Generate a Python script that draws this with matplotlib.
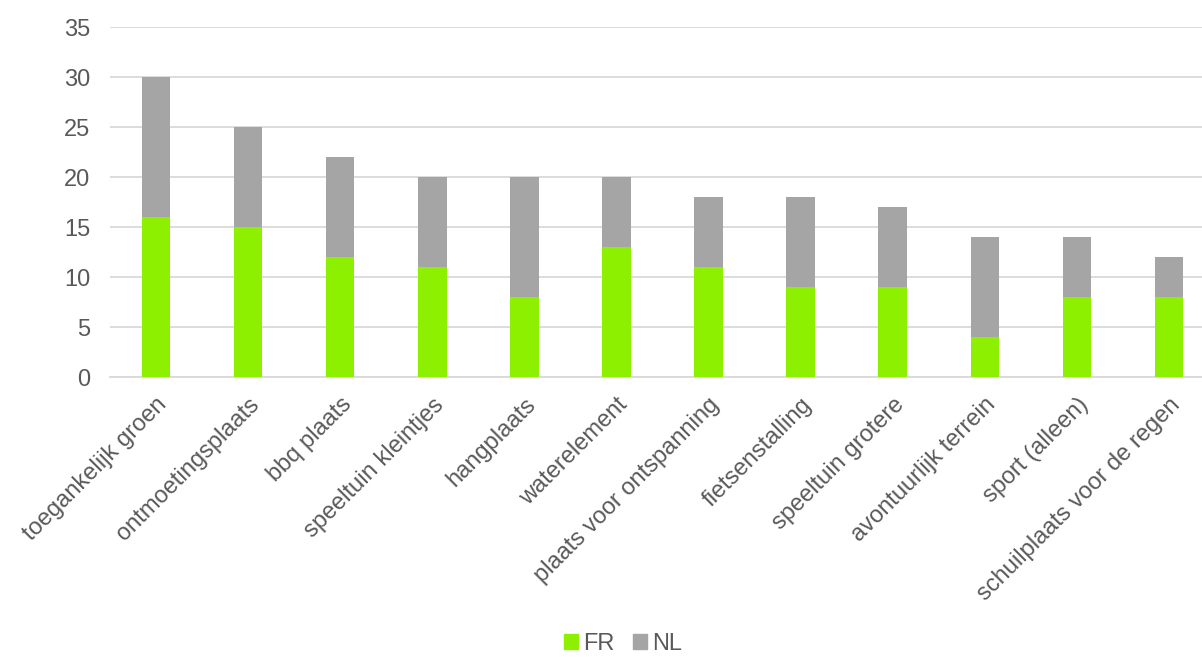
import matplotlib
matplotlib.use("Agg")
import matplotlib.pyplot as plt
from matplotlib.patches import Patch

categories = ["toegankelijk groen", "ontmoetingsplaats", "bbq plaats", "speeltuin kleintjes",
              "hangplaats", "waterelement", "plaats voor ontspanning", "fietsenstalling",
              "speeltuin grotere", "avontuurlijk terrein", "sport (alleen)", "schuilplaats voor de regen"]
fr = [16, 15, 12, 11, 8, 13, 11, 9, 9, 4, 8, 8]
nl = [14, 10, 10, 9, 12, 7, 7, 9, 8, 10, 6, 4]

plt.rcParams['font.family'] = ['Liberation Sans', 'DejaVu Sans']
green = "#8CF000"
gray = "#A5A5A5"
txt = "#595959"

fig = plt.figure(figsize=(12.02, 6.57), dpi=100)
ax = fig.add_axes([110/1202, 1-377/657, 1105/1202, 350/657])
x = list(range(len(categories)))
ax.bar(x, fr, width=0.31, color=green, zorder=3)
ax.bar(x, nl, bottom=fr, width=0.31, color=gray, zorder=3)
ax.set_xlim(-0.5, len(categories)-0.5)
ax.set_ylim(0, 35)
ax.set_yticks(range(0, 36, 5))
ax.yaxis.grid(True, color="#D9D9D9", linewidth=1.3, zorder=0)
for s in ["top", "right", "left"]:
    ax.spines[s].set_visible(False)
ax.spines["bottom"].set_color("#D9D9D9")
ax.spines["bottom"].set_linewidth(1.3)
ax.tick_params(axis="both", length=0, labelsize=17, colors=txt)
ax.tick_params(axis="y", pad=14)
ax.set_xticks(x)
ax.set_xticklabels(categories, rotation=45, ha="right", rotation_mode="anchor")
ax.tick_params(axis="x", pad=12)

handles = [Patch(color=green, label="FR"), Patch(color=gray, label="NL")]
fig.legend(handles=handles, loc="center", bbox_to_anchor=(623/1202, 1-644/657), ncol=2,
           frameon=False, fontsize=17, handlelength=0.6, handleheight=0.6,
           handletextpad=0.2, columnspacing=0.8, labelcolor=txt)
fig.savefig("out.png", dpi=100)
